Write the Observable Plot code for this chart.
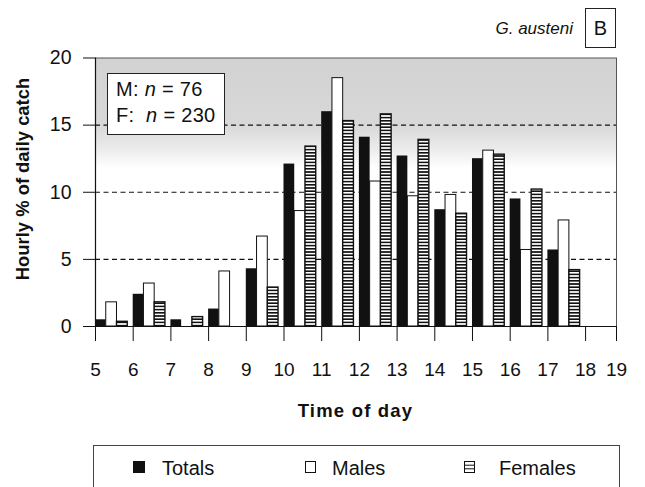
<!DOCTYPE html>
<html>
<head>
<meta charset="utf-8">
<script src="https://cdn.jsdelivr.net/npm/d3@7"></script>
<script src="https://cdn.jsdelivr.net/npm/@observablehq/plot@0.6"></script>
<style>
html, body { margin: 0; padding: 0; background: #fff; overflow: hidden; }
#wrap { position: relative; width: 645px; height: 487px; font-family: "Liberation Sans", Arial, Helvetica, sans-serif; color: #111; }
#chart { position: absolute; left: 0; top: 40px; }
.abs { position: absolute; white-space: nowrap; }
</style>
</head>
<body>
<div id="wrap">
  <div class="abs" style="right:72px; top:19px; font-style:italic; font-size:17px; line-height:20px;">G. austeni</div>
  <div class="abs" style="left:585px; top:8px; width:31px; height:40px; box-sizing:border-box; border:1px solid #222; font-size:20px; display:flex; align-items:center; justify-content:center;">B</div>
  <div id="chart"></div>
  <div class="abs" style="left:107px; top:72.5px; width:118px; height:62.5px; box-sizing:border-box; border:1.5px solid #222; background:#fff; font-size:20px; line-height:26px; padding:2.5px 0 0 8px; letter-spacing:0.3px;">
    <div>M: <i>n</i> = 76</div>
    <div>F:&nbsp; <i>n</i> = 230</div>
  </div>
  <div class="abs" style="left:23px; top:179px; transform:translate(-50%,-50%) rotate(-90deg); font-weight:bold; font-size:18.4px;">Hourly % of daily catch</div>
  <div class="abs" style="left:355.5px; top:401px; transform:translateX(-50%); font-weight:bold; font-size:18.5px; line-height:20px; letter-spacing:1.2px;">Time of day</div>
  <div id="legend"></div>
</div>
<script>
// ---- data ----
const hours   = [5, 6, 7, 8, 9, 10, 11, 12, 13, 14, 15, 16, 17, 18];
const totals  = [0.5, 2.4, 0.5, 1.3, 4.3, 12.1, 16.0, 14.1, 12.7, 8.7, 12.5, 9.5, 5.7, 0];
const males   = [1.8, 3.2, 0, 4.1, 6.7, 8.6, 18.5, 10.8, 9.7, 9.8, 13.1, 5.7, 7.9, 0];
const females = [0.35, 1.8, 0.7, 0, 2.9, 13.4, 15.3, 15.8, 13.9, 8.4, 12.8, 10.2, 4.2, 0];
const seriesNames = ["Totals", "Males", "Females"];
const xTickLabels = ["5","6","7","8","9","10","11","12","13","14","15","16","17","18","19"];
const yTicks = [0, 5, 10, 15, 20];
const gridValues = [5, 10, 15];

// ---- layout constants ----
const xEnd = 18.82;          // right edge of the plotting area (labelled 19)
const barW = 0.285;           // width of each bar in hour units
const tickPos = hours.concat([xEnd]);
const labelMap = new Map(tickPos.map((p, i) => [p, xTickLabels[i]]));

const table = [];
[totals, males, females].forEach((arr, s) => {
  arr.forEach((v, i) => { if (v > 0) table.push({hour: hours[i], series: seriesNames[s], idx: s, value: v}); });
});
const sub = name => table.filter(d => d.series === name);
const x1 = d => d.hour + d.idx * barW;
const x2 = d => d.hour + (d.idx + 1) * barW;

const font = '"Liberation Sans", Arial, Helvetica, sans-serif';
const chart = Plot.plot({
  width: 645,
  height: 400,
  marginLeft: 95,
  marginRight: 29,
  marginTop: 17.5,
  marginBottom: 114,
  style: {fontFamily: font, fontSize: "19px", color: "#111", background: "transparent", overflow: "visible"},
  x: {type: "linear", domain: [hours[0], xEnd]},
  y: {domain: [yTicks[0], yTicks[yTicks.length - 1]]},
  marks: [
    Plot.frame({fill: "url(#bgGrad)", stroke: "#555", strokeWidth: 1}),
    Plot.ruleY(gridValues, {stroke: "#111", strokeDasharray: "5,3.5", strokeWidth: 1.1}),
    Plot.rect(sub("Totals"), {x1, x2, y1: d => 0, y2: "value", fill: "#111"}),
    Plot.rect(sub("Males"), {x1, x2, y1: d => 0, y2: "value", fill: "#fff", stroke: "#111", strokeWidth: 1}),
    Plot.rect(sub("Females"), {x1, x2, y1: d => 0, y2: "value", fill: "url(#stripes)", stroke: "#111", strokeWidth: 1.4}),
    Plot.axisY({ticks: yTicks, tickSize: 12, tickPadding: 12, label: null, fontSize: 19.5}),
    Plot.axisX({ticks: tickPos, tickFormat: d => labelMap.get(d), tickSize: 15, tickPadding: 21, label: null, fontSize: 19}),
    Plot.ruleX([hours[0]], {stroke: "#111", strokeWidth: 1.2}),
    Plot.ruleY([yTicks[0]], {stroke: "#111", strokeWidth: 1.2})
  ]
});

d3.select(chart).insert("defs", ":first-child").html(`
  <pattern id="stripes" patternUnits="userSpaceOnUse" width="4" height="3.2">
    <rect width="4" height="3.2" fill="#fff"/>
    <rect width="4" height="1.6" fill="#111"/>
  </pattern>
  <linearGradient id="bgGrad" x1="0" y1="0" x2="0" y2="1">
    <stop offset="0" stop-color="#d2d2d2"/>
    <stop offset="0.25" stop-color="#d8d8d8"/>
    <stop offset="0.34" stop-color="#ececec"/>
    <stop offset="0.41" stop-color="#ffffff"/>
    <stop offset="1" stop-color="#ffffff"/>
  </linearGradient>`);
document.getElementById("chart").appendChild(chart);

// ---- legend ----
const legendItems = [
  {name: seriesNames[0], box: 133, text: 162, kind: "solid"},
  {name: seriesNames[1], box: 305, text: 332, kind: "open"},
  {name: seriesNames[2], box: 464, text: 499, kind: "striped"}
];
const lg = document.getElementById("legend");
lg.innerHTML = `<div class="abs" style="left:93px; top:445px; width:527px; height:70px; box-sizing:border-box; border:1px solid #444;"></div>` +
  legendItems.map(it => {
    let icon;
    if (it.kind === "solid") icon = `<rect x="0" y="0" width="12" height="12" fill="#111"/>`;
    else if (it.kind === "open") icon = `<rect x="0.5" y="0.5" width="10" height="11" fill="#fff" stroke="#111"/>`;
    else icon = `<rect x="0.5" y="0.5" width="10" height="11" fill="#fff" stroke="#111"/><line x1="0.5" x2="10.5" y1="4.2" y2="4.2" stroke="#111"/><line x1="0.5" x2="10.5" y1="7.8" y2="7.8" stroke="#111"/>`;
    return `<svg class="abs" style="left:${it.box}px; top:461px;" width="13" height="13">${icon}</svg>` +
      `<div class="abs" style="left:${it.text}px; top:458px; font-size:20px; line-height:20px;">${it.name}</div>`;
  }).join("");
</script>
</body>
</html>
